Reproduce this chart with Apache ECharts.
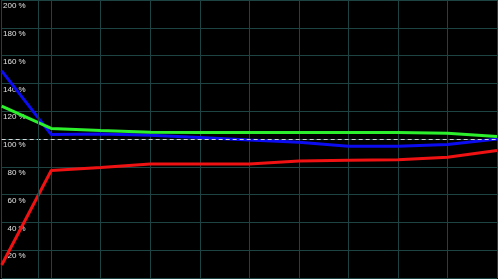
<!DOCTYPE html>
<html>
<head>
<meta charset="utf-8">
<script src="https://cdn.jsdelivr.net/npm/echarts@6/dist/echarts.min.js"></script>
<style>
html,body{margin:0;padding:0;background:#000;}
#c{width:498px;height:279px;}
</style>
</head>
<body>
<div id="c"></div>
<script>
// x positions (grid units) and series values in %
const xValues = [0, 1, 2, 3, 4, 5, 6, 7, 8, 9, 10];
const redValues = [9.4, 77.3, 79.5, 82.0, 82.0, 82.1, 84.2, 84.7, 85.0, 86.8, 91.7];
const blueValues = [149.0, 103.2, 103.6, 102.7, 101.1, 99.3, 97.6, 94.7, 94.7, 96.0, 100.0];
const greenValues = [123.7, 107.6, 106.1, 104.8, 104.7, 104.7, 104.7, 104.7, 104.7, 104.1, 101.8];
const yTicks = [0, 20, 40, 60, 80, 100, 120, 140, 160, 180, 200];
const referenceLevel = 100;
const extraVerticalAt = 0.745;

const pair = (vals) => xValues.map((x, i) => [x, vals[i]]);
const gridColor = '#1d4443';

const chart = echarts.init(document.getElementById('c'), null, {renderer: 'canvas'});
chart.setOption({
  animation: false,
  backgroundColor: '#000000',
  grid: {left: 0, top: 0, width: 497, height: 278, containLabel: false},
  xAxis: {
    type: 'value', min: 0, max: 10, interval: 1,
    axisLine: {show: false}, axisTick: {show: false}, axisLabel: {show: false},
    splitLine: {show: true, lineStyle: {color: gridColor, width: 1}}
  },
  yAxis: {
    type: 'value', min: yTicks[0], max: yTicks[yTicks.length - 1], interval: 20,
    axisLine: {show: false}, axisTick: {show: false},
    splitLine: {show: true, lineStyle: {color: gridColor, width: 1}},
    axisLabel: {
      inside: true, margin: 24, align: 'right', verticalAlign: 'top',
      padding: [2, 0, 0, 0],
      color: '#e0e0e0', fontSize: 8, fontFamily: 'Liberation Sans, Arial, sans-serif',
      formatter: (v) => v === 0 ? '' : v + ' %'
    }
  },
  series: [
    {
      type: 'line', data: pair(redValues), showSymbol: false,
      lineStyle: {color: '#f01212', width: 3}, itemStyle: {color: '#f01212'},
      markLine: {
        silent: true, symbol: 'none', label: {show: false},
        lineStyle: {color: '#d8d8d8', width: 1, type: [4, 3]},
        data: [{yAxis: referenceLevel}]
      }
    },
    {
      type: 'line', data: pair(blueValues), showSymbol: false,
      lineStyle: {color: '#0c0cf0', width: 3}, itemStyle: {color: '#0c0cf0'},
      markLine: {
        silent: true, symbol: 'none', label: {show: false},
        lineStyle: {color: gridColor, width: 1, type: 'solid'},
        data: [{xAxis: extraVerticalAt}]
      }
    },
    {
      type: 'line', data: pair(greenValues), showSymbol: false,
      lineStyle: {color: '#2cf02c', width: 3}, itemStyle: {color: '#2cf02c'}
    }
  ]
});
</script>
</body>
</html>
